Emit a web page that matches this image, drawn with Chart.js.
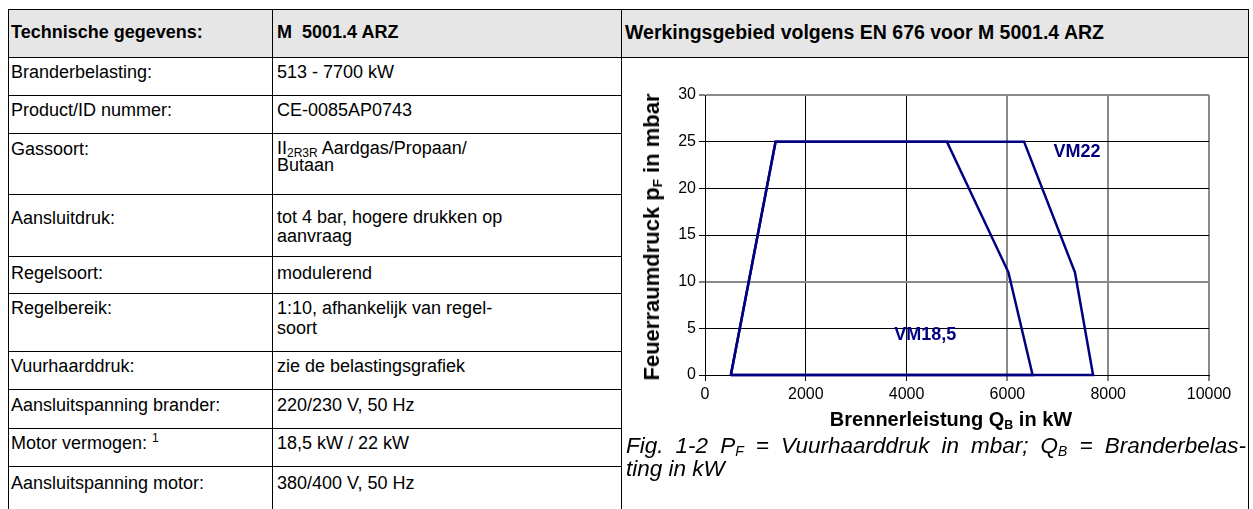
<!DOCTYPE html>
<html>
<head>
<meta charset="utf-8">
<script src="https://cdn.jsdelivr.net/npm/chart.js@4.4.1/dist/chart.umd.min.js"></script>
<style>
  html, body { margin: 0; padding: 0; background: #fff; }
  body { width: 1253px; height: 509px; overflow: hidden; position: relative;
         font-family: 'Liberation Sans', Arial, sans-serif; color: #000; }
  .hd { position: absolute; left: 8px; top: 9px; width: 1241px; height: 48px; background: #e6e6e6; }
  .hl { position: absolute; height: 1px; background: #000; }
  .vl { position: absolute; width: 1px; top: 9px; height: 500px; background: #000; }
  .t  { position: absolute; font-size: 18px; line-height: 20px; white-space: pre; }
  .b  { font-weight: bold; }
  .c1 { left: 11px; }
  .c2 { left: 277px; }
  .sb { font-size: 12px; vertical-align: -3px; line-height: 0; }
  .sp { font-size: 12px; vertical-align: 7px; line-height: 0; }
  #chart { position: absolute; left: 622px; top: 58px; }
  .ytitle { position: absolute; left: 652px; top: 237px; transform: translate(-50%, -50%) rotate(-90deg);
            font-weight: bold; font-size: 22px; line-height: 24px; white-space: nowrap; }
  .xtitle { position: absolute; left: 951px; top: 419px; transform: translate(-50%, -50%);
            font-weight: bold; font-size: 20px; line-height: 24px; white-space: nowrap; }
  .ts { font-size: 0.62em; vertical-align: -0.25em; line-height: 0; }
  .cap { position: absolute; left: 626px; top: 434px; width: 620px; font-style: italic;
         font-size: 22.5px; line-height: 23px; }
  .cap1 { text-align: justify; text-align-last: justify; white-space: nowrap; }
</style>
</head>
<body>

<div class="hd"></div>

<!-- table rules -->
<div class="hl" style="left:8px;top:9px;width:1241px"></div>
<div class="hl" style="left:8px;top:57px;width:1241px"></div>
<div class="hl" style="left:8px;top:95px;width:614px"></div>
<div class="hl" style="left:8px;top:133px;width:614px"></div>
<div class="hl" style="left:8px;top:194px;width:614px"></div>
<div class="hl" style="left:8px;top:256px;width:614px"></div>
<div class="hl" style="left:8px;top:293px;width:614px"></div>
<div class="hl" style="left:8px;top:351px;width:614px"></div>
<div class="hl" style="left:8px;top:389px;width:614px"></div>
<div class="hl" style="left:8px;top:428px;width:614px"></div>
<div class="hl" style="left:8px;top:466px;width:614px"></div>
<div class="vl" style="left:8px"></div>
<div class="vl" style="left:272px"></div>
<div class="vl" style="left:621px"></div>
<div class="vl" style="left:1248px"></div>

<!-- header -->
<div class="t b c1" style="top:22px">Technische gegevens:</div>
<div class="t b c2" style="top:22px">M  5001.4 ARZ</div>
<div class="t b" style="left:625px;top:22px;font-size:19.5px">Werkingsgebied volgens EN 676 voor M 5001.4 ARZ</div>

<!-- rows -->
<div class="t c1" style="top:62px">Branderbelasting:</div>
<div class="t c2" style="top:62px">513 - 7700 kW</div>

<div class="t c1" style="top:100px">Product/ID nummer:</div>
<div class="t c2" style="top:100px">CE-0085AP0743</div>

<div class="t c1" style="top:139px">Gassoort:</div>
<div class="t c2" style="top:138px">II<span class="sb">2R3R</span> Aardgas/Propaan/</div>
<div class="t c2" style="top:155px">Butaan</div>

<div class="t c1" style="top:208px">Aansluitdruk:</div>
<div class="t c2" style="top:208px;line-height:19px">tot 4 bar, hogere drukken op
aanvraag</div>

<div class="t c1" style="top:263px">Regelsoort:</div>
<div class="t c2" style="top:263px">modulerend</div>

<div class="t c1" style="top:298px">Regelbereik:</div>
<div class="t c2" style="top:298px">1:10, afhankelijk van regel-
soort</div>

<div class="t c1" style="top:356px">Vuurhaarddruk:</div>
<div class="t c2" style="top:356px">zie de belastingsgrafiek</div>

<div class="t c1" style="top:395px">Aansluitspanning brander:</div>
<div class="t c2" style="top:395px">220/230 V, 50 Hz</div>

<div class="t c1" style="top:433px">Motor vermogen: <span class="sp">1</span></div>
<div class="t c2" style="top:433px">18,5 kW / 22 kW</div>

<div class="t c1" style="top:473px">Aansluitspanning motor:</div>
<div class="t c2" style="top:473px">380/400 V, 50 Hz</div>

<!-- chart -->
<canvas id="chart" width="626" height="372"></canvas>
<div class="ytitle">Feuerraumdruck p<span class="ts">F</span> in mbar</div>
<div class="xtitle">Brennerleistung Q<span class="ts">B</span> in kW</div>

<div class="cap">
  <div class="cap1">Fig. 1-2 P<span class="ts">F</span> = Vuurhaarddruk in mbar; Q<span class="ts">B</span> = Branderbelas-</div>
  <div>ting in kW</div>
</div>

<script>
    // operating fields (kW / mbar)
    var vm185Load     = [513, 1400, 4800, 6020, 6500, 513];
    var vm185Pressure = [0, 25, 25, 11, 0, 0];
    var vm22Load      = [513, 1400, 6330, 7340, 7700, 513];
    var vm22Pressure  = [0, 25, 25, 11, 0, 0];

    var loadTicks     = [0, 2000, 4000, 6000, 8000, 10000];
    var pressureTicks = [0, 5, 10, 15, 20, 25, 30];

    var seriesNames = ['VM18,5', 'VM22'];
    var nameAnchors = [[4370, 4.3], [7380, 23.9]];   // kW, mbar

    var navy = '#000080';
    Chart.defaults.font.family = "'Liberation Sans', Arial, sans-serif";
    Chart.defaults.color = '#000';

    function points(xs, ys) {
        return xs.map(function(x, i) { return {x: x, y: ys[i]}; });
    }

    // some grid lines come out grey in the original
    function gridColor(grey) {
        return function(c) {
            return c.tick && grey.indexOf(c.tick.value) >= 0 ? '#8a8a8a' : '#000';
        };
    }
    function gridWidth(grey) {
        return function(c) {
            return c.tick && grey.indexOf(c.tick.value) >= 0 ? 2 : 1;
        };
    }

    var seriesNamesPlugin = {
        id: 'seriesNames',
        afterDatasetsDraw: function(chart) {
            var ctx = chart.ctx, xs = chart.scales.x, ys = chart.scales.y;
            ctx.save();
            ctx.font = "bold 18px 'Liberation Sans', Arial, sans-serif";
            ctx.fillStyle = navy;
            ctx.textAlign = 'center';
            ctx.textBaseline = 'middle';
            seriesNames.forEach(function(name, i) {
                ctx.fillText(name, xs.getPixelForValue(nameAnchors[i][0]), ys.getPixelForValue(nameAnchors[i][1]));
            });
            ctx.restore();
        }
    };

    var ctx = document.getElementById('chart').getContext('2d');
    var chart = new Chart(ctx, {
        type: 'scatter',
        data: {
            datasets: [{
                label: seriesNames[0],
                data: points(vm185Load, vm185Pressure),
                showLine: true,
                borderColor: navy,
                borderWidth: 2.5,
                borderJoinStyle: 'miter',
                pointRadius: 0,
                fill: false,
                clip: false
            }, {
                label: seriesNames[1],
                data: points(vm22Load, vm22Pressure),
                showLine: true,
                borderColor: navy,
                borderWidth: 2.5,
                borderJoinStyle: 'miter',
                pointRadius: 0,
                fill: false,
                clip: false
            }]
        },
        options: {
            responsive: false,
            animation: false,
            events: [],
            layout: { padding: { left: 0, top: 37, right: 39, bottom: 0 } },
            plugins: {
                legend: { display: false },
                tooltip: { enabled: false }
            },
            scales: {
                x: {
                    type: 'linear',
                    min: loadTicks[0],
                    max: loadTicks[loadTicks.length - 1],
                    afterBuildTicks: function(s) {
                        s.ticks = loadTicks.map(function(v) { return {value: v}; });
                    },
                    afterFit: function(s) { s.height = 55; },
                    grid: {
                        color: gridColor([6000, 8000, 10000]),
                        lineWidth: gridWidth([6000, 8000, 10000]),
                        tickColor: '#000',
                        tickWidth: 1,
                        tickLength: 6
                    },
                    border: { color: '#000', width: 1 },
                    ticks: {
                        font: { size: 16 },
                        padding: 4,
                        maxRotation: 0,
                        autoSkip: false,
                        callback: function(v) { return String(v); }
                    }
                },
                y: {
                    min: pressureTicks[0],
                    max: pressureTicks[pressureTicks.length - 1],
                    afterBuildTicks: function(s) {
                        s.ticks = pressureTicks.map(function(v) { return {value: v}; });
                    },
                    afterFit: function(s) { s.width = 83; },
                    grid: {
                        color: gridColor([10, 30]),
                        lineWidth: gridWidth([10, 30]),
                        tickColor: '#000',
                        tickWidth: 1,
                        tickLength: 6
                    },
                    border: { color: '#000', width: 1 },
                    ticks: {
                        font: { size: 16 },
                        padding: 3,
                        autoSkip: false,
                        callback: function(v) { return String(v); }
                    }
                }
            }
        },
        plugins: [seriesNamesPlugin]
    });
</script>
</body>
</html>
